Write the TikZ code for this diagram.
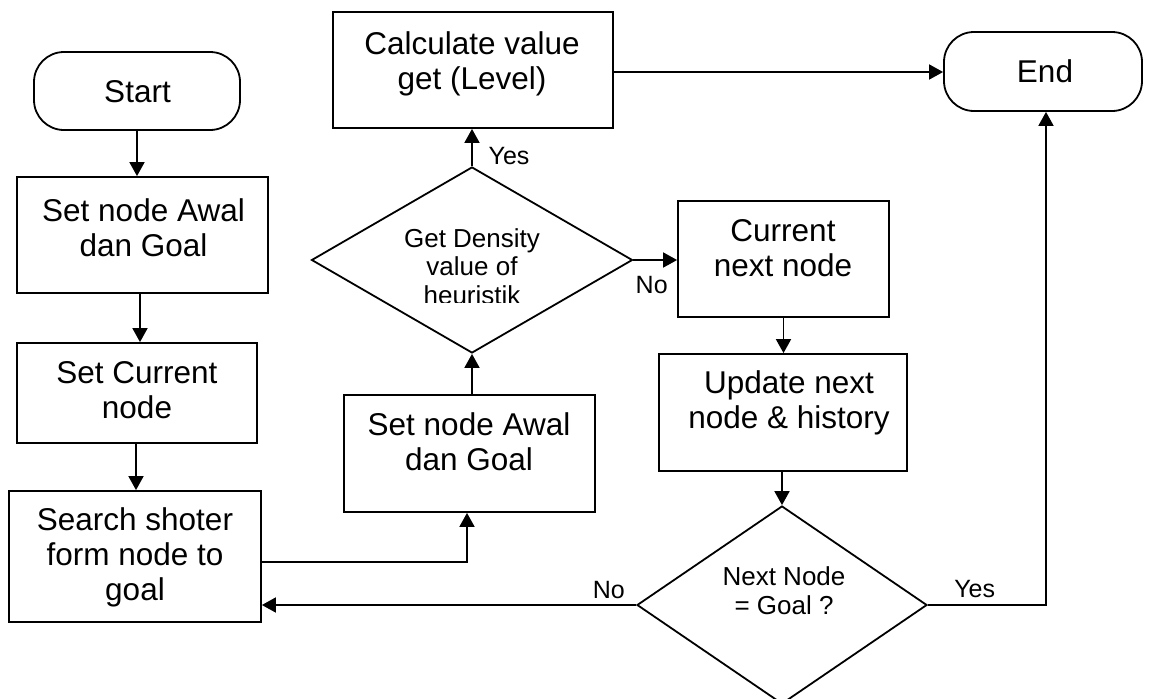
\documentclass[tikz,border=0pt]{standalone}
\usepackage{fontspec}
\setmainfont{Liberation Sans}
\usetikzlibrary{shapes.geometric,arrows.meta,calc}
\begin{document}
\begin{tikzpicture}[x=1pt,y=-1pt,
  line width=1.8pt,
  term/.style={draw, rounded corners=30pt, inner sep=0pt},
  proc/.style={draw, rectangle, inner sep=0pt},
  dec/.style={draw, diamond, inner sep=0pt},
  txt/.style={anchor=north, inner sep=0pt, align=center, font=\fontsize{31.5}{35}\selectfont},
  dtxt/.style={anchor=north, inner sep=0pt, align=center, font=\fontsize{26}{28.3}\selectfont},
  lbl/.style={anchor=base, inner sep=0pt, font=\fontsize{25}{29}\selectfont},
  arr/.style={-{Triangle[length=14pt,width=15pt]}}]
\useasboundingbox[fill=white] (0,0) rectangle (1152,699);

% shapes
\node[term, minimum width=206pt, minimum height=78pt] (start) at (137,91) {};
\node[proc, minimum width=251pt, minimum height=116pt] (b1) at (142.5,235) {};
\node[proc, minimum width=240pt, minimum height=100pt] (b2) at (137,393) {};
\node[proc, minimum width=252pt, minimum height=131pt] (b3) at (135,556.5) {};
\node[proc, minimum width=251pt, minimum height=117pt] (b4) at (469.5,453.5) {};
\node[dec, minimum width=321pt, minimum height=186pt] (d1) at (472,260) {};
\node[proc, minimum width=280pt, minimum height=116pt] (calc) at (473,70) {};
\node[term, minimum width=198pt, minimum height=79pt] (end) at (1043,71.5) {};
\node[proc, minimum width=211pt, minimum height=116pt] (cur) at (783.5,259) {};
\node[proc, minimum width=248pt, minimum height=117pt] (upd) at (783,412.5) {};
\node[dec, minimum width=290pt, minimum height=198pt] (d2) at (782,605) {};

% texts
\node[txt] (tstart) at (137.5,73.3) {\rule{0pt}{0.9em}Start};
\node[txt] (tend) at (1045,53.3) {\rule{0pt}{0.9em}End};
\node[txt] (tb1) at (143.5,192.3) {\rule{0pt}{0.9em}Set node Awal\\dan Goal};
\node[txt] (tb2) at (137,354.6) {\rule{0pt}{0.9em}Set Current\\node};
\node[txt] (tb3) at (135,501.6) {\rule{0pt}{0.9em}Search shoter\\form node to\\goal};
\node[txt] (tb4) at (469,406.6) {\rule{0pt}{0.9em}Set node Awal\\dan Goal};
\node[txt] (tcalc) at (472,25) {\rule{0pt}{0.9em}Calculate value\\get (Level)};
\node[txt] (tcur) at (783,212.3) {\rule{0pt}{0.9em}Current\\next node};
\node[txt] (tupd) at (789,364.6) {\rule{0pt}{0.9em}Update next\\node \& history};
\begin{scope}
  \clip (300,150) rectangle (650,302.5);
  \node[dtxt] (td1) at (472,223.3) {\rule{0pt}{0.9em}Get Density\\value of\\heuristik};
\end{scope}
\node[dtxt] (td2) at (784,561.6) {\rule{0pt}{0.9em}Next Node\\= Goal ?};

% connectors
\draw[arr] (start.south) -- (start.south |- b1.north);
\draw[arr] ([xshift=-2.5pt]b1.south) -- ([xshift=-2.5pt]b1.south |- b2.north);
\draw[arr] ([xshift=-1pt]b2.south) -- ([xshift=-1pt]b2.south |- b3.north);
\draw[arr] ([yshift=-5.5pt]b3.east) -| ([xshift=-2.5pt]b4.south);
\draw[arr] (d1.south |- b4.north) -- (d1.south);
\draw[arr] (d1.north) -- (d1.north |- calc.south);
\draw[arr] (d1.east) -- (d1.east -| cur.west);
\draw[arr] ([yshift=-2pt]calc.east) -- ([yshift=-2pt]calc.east -| end.west);
\draw[arr] (cur.south) -- (cur.south |- upd.north);
\draw[arr] (d2.north |- upd.south) -- (d2.north);
\draw[arr] (d2.west) -- (d2.west -| b3.east);
\draw[arr] (d2.east) -| ([xshift=3pt]end.south);

% labels
\node[lbl] (lyes1) at (509,164) {Yes};
\node[lbl] (lno1) at (651.7,293) {No};
\node[lbl] (lno2) at (608.8,598) {No};
\node[lbl] (lyes2) at (974.7,597.7) {Yes};
\end{tikzpicture}
\end{document}
